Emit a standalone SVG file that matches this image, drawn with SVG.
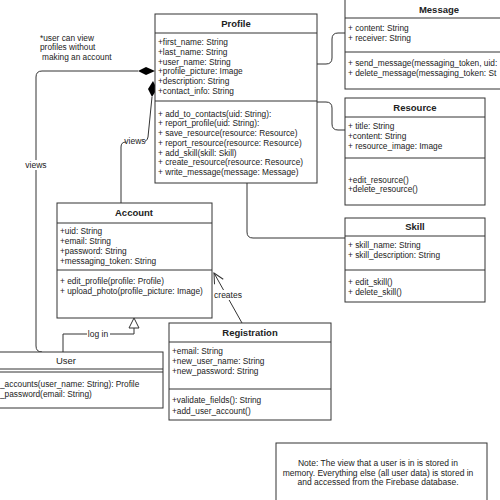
<svg xmlns="http://www.w3.org/2000/svg" width="500" height="500" viewBox="0 0 500 500">
<style>
.box{fill:#fff;stroke:#333;stroke-width:1}
.sep{stroke:#333;stroke-width:1}
.t{font-family:"Liberation Sans",Arial,sans-serif;font-size:8.3px;fill:#222}
.h{font-family:"Liberation Sans",Arial,sans-serif;font-size:9.5px;font-weight:bold;fill:#222;text-anchor:middle}
.hn{font-family:"Liberation Sans",Arial,sans-serif;font-size:9.5px;fill:#222;text-anchor:middle}
.c{fill:none;stroke:#333;stroke-width:1}
.lbl{font-family:"Liberation Sans",Arial,sans-serif;font-size:8.5px;fill:#222;text-anchor:middle}
</style>
<defs>
<marker id="open" markerWidth="12" markerHeight="12" refX="11" refY="6" orient="auto" markerUnits="userSpaceOnUse">
<path d="M1,1 L11,6 L1,11" fill="none" stroke="#333" stroke-width="1"/>
</marker>
</defs>
<rect width="500" height="500" fill="#fff"/>
<g id="connectors">
<path class="c" d="M138,71 L42,71 Q36,71 36,77 L36,346 Q36,352 42,352"/>
<path d="M138,71 L146,67 L155,71 L146,75 Z" fill="#000"/>
<path class="c" d="M152,97 L148,137 Q147,142 142,142 L126,142 Q121,142 121,147 L121,203"/>
<path d="M153,81 L157,89 L152,97 L148,89 Z" fill="#000"/>
<rect x="126" y="136" width="19" height="9" fill="#fff"/>
<text class="lbl" x="135" y="144">views</text>
<rect x="24" y="160" width="24" height="10" fill="#fff"/>
<text class="lbl" x="36" y="168">views</text>
<path class="c" d="M317,64 L326,64 Q332,64 332,58 L332,39 Q332,33 338,33 L345,33"/>
<path class="c" d="M317,102 L326,102 Q332,102 332,108 L332,124 Q332,130 338,130 L345,130"/>
<path class="c" d="M247,183 L247,232 Q247,238 253,238 L345,238"/>
<path class="c" d="M242,323 L214,273" marker-end="url(#open)"/>
<rect x="213" y="290" width="30" height="10" fill="#fff"/>
<text class="lbl" x="228" y="298">creates</text>
<path class="c" d="M63,352 L63,334 L134,334 L134,328"/>
<path d="M134,318 L139,328 L129,328 Z" fill="#fff" stroke="#333" stroke-width="1"/>
<rect x="87" y="329" width="23" height="10" fill="#fff"/>
<text class="lbl" x="98" y="337">log in</text>
</g>
<g id="note-view">
<text class="t" x="40" y="41" font-size="8.7">*user can view</text>
<text class="t" x="40" y="50" font-size="8.7">profiles without</text>
<text class="t" x="42" y="60" font-size="8.7">making an account</text>
</g>
<g id="profile">
<rect class="box" x="155" y="14" width="162" height="169"/>
<line class="sep" x1="155" y1="33" x2="317" y2="33"/>
<line class="sep" x1="155" y1="101" x2="317" y2="101"/>
<text class="h" x="236" y="27">Profile</text>
<text class="t" x="158" y="45">+first_name: String</text>
<text class="t" x="158" y="55">+last_name: String</text>
<text class="t" x="158" y="65">+user_name: String</text>
<text class="t" x="158" y="74">+profile_picture: Image</text>
<text class="t" x="158" y="84">+description: String</text>
<text class="t" x="158" y="94">+contact_info: String</text>
<text class="t" x="158" y="117">+ add_to_contacts(uid: String):</text>
<text class="t" x="158" y="126">+ report_profile(uid: String):</text>
<text class="t" x="158" y="136">+ save_resource(resource: Resource)</text>
<text class="t" x="158" y="146">+ report_resource(resource: Resource)</text>
<text class="t" x="158" y="156">+ add_skill(skill: Skill)</text>
<text class="t" x="158" y="165">+ create_resource(resource: Resource)</text>
<text class="t" x="158" y="175">+ write_message(message: Message)</text>
</g>
<g id="message">
<rect class="box" x="345" y="-1" width="190" height="90"/>
<line class="sep" x1="345" y1="18" x2="535" y2="18"/>
<line class="sep" x1="345" y1="52" x2="535" y2="52"/>
<text class="h" x="439" y="13">Message</text>
<text class="t" x="348" y="31">+ content: String</text>
<text class="t" x="348" y="41">+ receiver: String</text>
<text class="t" x="348" y="66">+ send_message(messaging_token, uid:</text>
<text class="t" x="348" y="76">+ delete_message(messaging_token: St</text>
</g>
<g id="resource">
<rect class="box" x="345" y="98" width="140" height="107"/>
<line class="sep" x1="345" y1="117" x2="485" y2="117"/>
<line class="sep" x1="345" y1="158" x2="485" y2="158"/>
<text class="h" x="415" y="111">Resource</text>
<text class="t" x="348" y="129">+ title: String</text>
<text class="t" x="348" y="139">+content: String</text>
<text class="t" x="348" y="149">+ resource_image: Image</text>
<text class="t" x="348" y="183">+edit_resource()</text>
<text class="t" x="348" y="192">+delete_resource()</text>
</g>
<g id="skill">
<rect class="box" x="345" y="218" width="140" height="84"/>
<line class="sep" x1="345" y1="236" x2="485" y2="236"/>
<line class="sep" x1="345" y1="270" x2="485" y2="270"/>
<text class="h" x="415" y="230">Skill</text>
<text class="t" x="348" y="248">+ skill_name: String</text>
<text class="t" x="348" y="258">+ skill_description: String</text>
<text class="t" x="348" y="285">+ edit_skill()</text>
<text class="t" x="348" y="295">+ delete_skill()</text>
</g>
<g id="account">
<rect class="box" x="57" y="203" width="155" height="115"/>
<line class="sep" x1="57" y1="223" x2="212" y2="223"/>
<line class="sep" x1="57" y1="270" x2="212" y2="270"/>
<text class="h" x="134" y="216">Account</text>
<text class="t" x="60" y="234">+uid: String</text>
<text class="t" x="60" y="244">+email: String</text>
<text class="t" x="60" y="254">+password: String</text>
<text class="t" x="60" y="264">+messaging_token: String</text>
<text class="t" x="60" y="284">+ edit_profile(profile: Profile)</text>
<text class="t" x="60" y="294">+ upload_photo(profile_picture: Image)</text>
</g>
<g id="registration">
<rect class="box" x="169" y="323" width="162" height="97"/>
<line class="sep" x1="169" y1="342" x2="331" y2="342"/>
<line class="sep" x1="169" y1="389" x2="331" y2="389"/>
<text class="h" x="250" y="336">Registration</text>
<text class="t" x="172" y="354">+email: String</text>
<text class="t" x="172" y="364">+new_user_name: String</text>
<text class="t" x="172" y="374">+new_password: String</text>
<text class="t" x="172" y="403">+validate_fields(): String</text>
<text class="t" x="172" y="414">+add_user_account()</text>
</g>
<g id="user">
<rect class="box" x="-31" y="352" width="194" height="56"/>
<line class="sep" x1="-31" y1="369" x2="163" y2="369"/>
<line class="sep" x1="-31" y1="372" x2="163" y2="372"/>
<text class="hn" x="66" y="364">User</text>
<text class="t" x="0" y="387">_accounts(user_name: String): Profile</text>
<text class="t" x="0" y="397">_password(email: String)</text>
</g>
<g id="note">
<rect class="box" x="276" y="443" width="211" height="62"/>
<text class="lbl" x="378" y="466">Note: The view that a user is in is stored in</text>
<text class="lbl" x="378" y="476">memory. Everything else (all user data) is stored in</text>
<text class="lbl" x="378" y="485">and accessed from the Firebase database.</text>
</g>
</svg>
